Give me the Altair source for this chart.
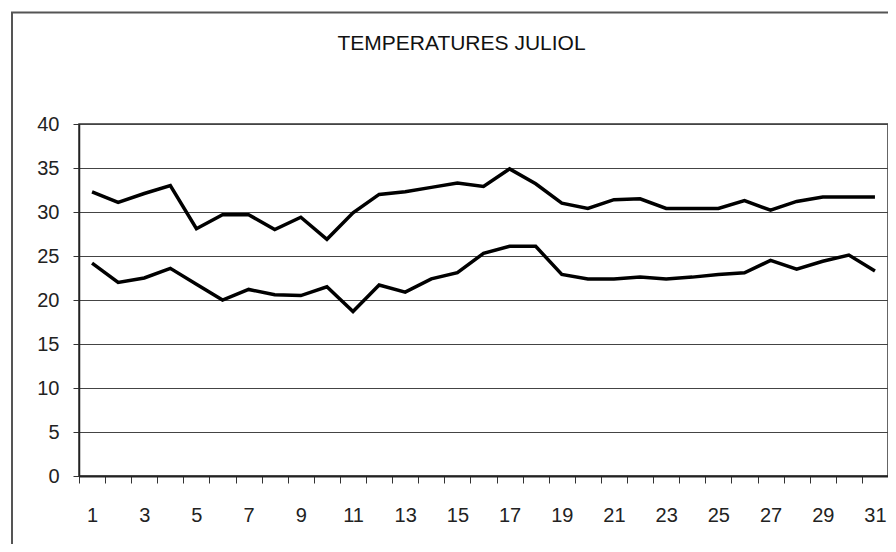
import altair as alt
import pandas as pd

title_text = "TEMPERATURES JULIOL"
days = list(range(1, 32))
max_temp = [32.3, 31.1, 32.1, 33.0, 28.1, 29.7, 29.7, 28.0, 29.4, 26.9,
            29.9, 32.0, 32.3, 32.8, 33.3, 32.9, 34.9, 33.2, 31.0, 30.4,
            31.4, 31.5, 30.4, 30.4, 30.4, 31.3, 30.2, 31.2, 31.7, 31.7, 31.7]
min_temp = [24.2, 22.0, 22.5, 23.6, 21.8, 20.0, 21.2, 20.6, 20.5, 21.5,
            18.7, 21.7, 20.9, 22.4, 23.1, 25.3, 26.1, 26.1, 22.9, 22.4,
            22.4, 22.6, 22.4, 22.6, 22.9, 23.1, 24.5, 23.5, 24.4, 25.1, 23.3]
y_ticks = [0, 5, 10, 15, 20, 25, 30, 35, 40]

df = pd.DataFrame({
    "day": days * 2,
    "temp": max_temp + min_temp,
    "serie": ["max"] * 31 + ["min"] * 31,
})

FONT = "Liberation Sans"
W, H = 809, 352

lines = alt.Chart(df).mark_line(color="black", strokeWidth=3.5).encode(
    x=alt.X("day:O", title=None, sort=days,
            scale=alt.Scale(paddingInner=0, paddingOuter=0),
            axis=alt.Axis(labelAngle=0, tickBand="extent", labelExpr="datum.value % 2 == 1 ? datum.label : ''",
                          labelOverlap=False, tickSize=7, tickColor="#333", domainColor="#222",
                          domainWidth=2, labelPadding=22, labelFontSize=20, labelFont=FONT,
                          labelColor="#222", grid=False)),
    y=alt.Y("temp:Q", title=None,
            scale=alt.Scale(domain=[0, 40], nice=False, zero=True),
            axis=alt.Axis(values=y_ticks, tickSize=6, tickColor="#333", domainColor="#222",
                          domainWidth=1.5, labelPadding=14, labelFontSize=20, labelFont=FONT,
                          labelColor="#222", grid=True, gridColor="#444", gridWidth=1.2)),
    detail="serie:N",
)

one = pd.DataFrame({"t": [title_text]})

title = alt.Chart(one).mark_text(font=FONT, fontSize=21, color="#111", align="center",
                                 baseline="middle").encode(
    x=alt.value(382.5), y=alt.value(-80), text="t:N")

frame_left = alt.Chart(one).mark_rule(color="#555", strokeWidth=2).encode(
    x=alt.value(-67), y=alt.value(-111.5), y2=alt.value(H + 80))
frame_top = alt.Chart(one).mark_rule(color="#555", strokeWidth=2).encode(
    y=alt.value(-111.5), x=alt.value(-68), x2=alt.value(W + 10))

chart = alt.layer(lines, title, frame_left, frame_top).properties(
    width=W, height=H,
    autosize=alt.AutoSizeParams(type="none"),
    padding={"left": 71, "top": 116, "right": 0, "bottom": 68},
    background="white",
).configure_view(stroke="#333", strokeWidth=1.5)

chart.save("out.html", embed_options={"renderer": "svg", "actions": False})
